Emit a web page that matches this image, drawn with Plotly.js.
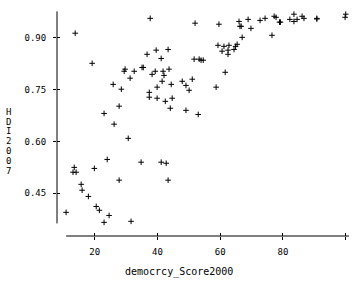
<!DOCTYPE html>
<html>
<head>
<meta charset="utf-8">
<script src="https://cdn.plot.ly/plotly-3.0.1.min.js"></script>
<style>html,body{margin:0;padding:0;background:#fff;}#chart{width:360px;height:281px;}</style>
</head>
<body>
<div id="chart"></div>
<script>
var democracyScore2000 = [37.7,13.8,39.6,36.7,19.2,29.7,29.4,32.6,35.1,35.5,39.3,38.3,31.3,25.9,39.9,28.5,37.4,37.4,39.9,27.8,23.0,
  52.0,59.6,66.0,68.9,72.7,66.3,66.7,69.8,67.0,43.4,41.2,59.3,61.2,62.8,60.6,62.5,62.5,64.4,64.9,65.4,51.7,53.3,53.9,54.6,
  41.8,43.7,42.1,41.5,44.4,47.9,49.1,51.1,50.1,61.6,58.7,44.7,42.5,44.1,49.1,53.0,
  74.3,77.2,77.8,78.9,79.2,76.5,82.2,83.5,83.5,84.5,86.1,86.7,90.8,90.8,100.0,99.8,
  26.2,30.7,24.0,34.8,41.2,42.8,13.5,13.1,14.1,19.9,27.8,43.4,15.7,16.0,18.0,20.5,21.5,24.6,10.9,23.0,31.6];
var hdi2007 = [0.956,0.913,0.864,0.852,0.826,0.809,0.803,0.803,0.814,0.814,0.803,0.794,0.783,0.765,0.757,0.751,0.742,0.728,0.725,0.702,0.681,
  0.942,0.939,0.947,0.953,0.950,0.933,0.933,0.927,0.901,0.866,0.840,0.878,0.875,0.878,0.861,0.864,0.852,0.866,0.875,0.881,0.838,0.838,0.835,0.835,
  0.803,0.809,0.791,0.774,0.765,0.774,0.762,0.780,0.748,0.800,0.757,0.725,0.716,0.696,0.690,0.678,
  0.956,0.962,0.959,0.945,0.945,0.907,0.953,0.968,0.947,0.953,0.962,0.956,0.956,0.954,0.968,0.959,
  0.650,0.609,0.548,0.540,0.540,0.537,0.525,0.511,0.511,0.522,0.488,0.488,0.476,0.459,0.441,0.412,0.401,0.386,0.395,0.366,0.369];
var xTickVals = [20,40,60,80,100];
var xTickText = ["20","40","60","80",""];
var yTickVals = [0.45,0.60,0.75,0.90];
var yTickText = ["0.45","0.60","0.75","0.90"];
var xTitle = "democrcy_Score2000";
var yTitle = "HDI2007";

var xLo = Math.min.apply(null, democracyScore2000), xHi = Math.max.apply(null, democracyScore2000) + 1;
var yLo = Math.min.apply(null, hdi2007) - 0.003, yHi = Math.max.apply(null, hdi2007) + 0.008;

var mono = "DejaVu Sans Mono";
var tickFont = {family: mono, size: 9, color: "#000"};

var traces = [
  {x: democracyScore2000, y: hdi2007, type: "scatter", mode: "markers",
   marker: {symbol: "cross-thin", size: 4, color: "#000", line: {width: 1, color: "#000"}},
   hoverinfo: "skip", showlegend: false},
  {x: [], y: [], xaxis: "x2", yaxis: "y2", type: "scatter", mode: "markers", showlegend: false}
];

var xRange = [8, 102], yRange = [0.3266, 0.9859];
var plotH = 228;
var annotations = [
  {text: xTitle, xref: "paper", yref: "paper", x: 0.4136, y: -0.1566, xanchor: "center", yanchor: "middle",
   showarrow: false, font: {family: mono, size: 10, color: "#000"}}
];
// vertical stacked y title: one upright letter per line
var letters = yTitle.split("");
var lineStep = 9.83, centerPx = 141.2, plotBottomPx = 236;
letters.forEach(function (ch, i) {
  var py = centerPx + (i - (letters.length - 1) / 2) * lineStep;
  annotations.push({text: ch, xref: "paper", yref: "paper", x: -0.165, y: (plotBottomPx - py) / plotH,
    xanchor: "center", yanchor: "middle", showarrow: false, font: {family: mono, size: 9, color: "#000"}});
});

var layout = {
  width: 360, height: 281,
  margin: {l: 57, r: 8, t: 8, b: 45},
  paper_bgcolor: "#fff", plot_bgcolor: "#fff",
  showlegend: false,
  xaxis: {range: xRange, showgrid: false, zeroline: false, showline: false,
    tickmode: "array", tickvals: xTickVals, ticktext: xTickText,
    ticks: "outside", ticklen: 3, tickwidth: 1, tickcolor: "#000",
    tickfont: tickFont, ticklabelstandoff: 4, fixedrange: true},
  yaxis: {range: yRange, showgrid: false, zeroline: false, showline: false,
    tickmode: "array", tickvals: yTickVals, ticktext: yTickText,
    ticks: "outside", ticklen: 3, tickwidth: 1, tickcolor: "#000",
    tickfont: tickFont, ticklabelstandoff: 5, fixedrange: true},
  xaxis2: {range: xRange, overlaying: "x", side: "bottom", showgrid: false, zeroline: false, showline: false,
    tickmode: "array", tickvals: xTickVals, ticks: "inside", ticklen: 3, tickwidth: 1, tickcolor: "#000",
    showticklabels: false, fixedrange: true},
  yaxis2: {range: yRange, overlaying: "y", side: "left", showgrid: false, zeroline: false, showline: false,
    tickmode: "array", tickvals: yTickVals, ticks: "inside", ticklen: 3, tickwidth: 1, tickcolor: "#000",
    showticklabels: false, fixedrange: true},
  shapes: [
    {type: "line", xref: "x", yref: "paper", x0: xLo, x1: xHi, y0: 0, y1: 0, line: {color: "#000", width: 1}},
    {type: "line", xref: "paper", yref: "y", x0: 0, x1: 0, y0: yLo, y1: yHi, line: {color: "#000", width: 1}}
  ],
  annotations: annotations
};
Plotly.newPlot("chart", traces, layout, {displayModeBar: false, staticPlot: true});
</script>
</body>
</html>
